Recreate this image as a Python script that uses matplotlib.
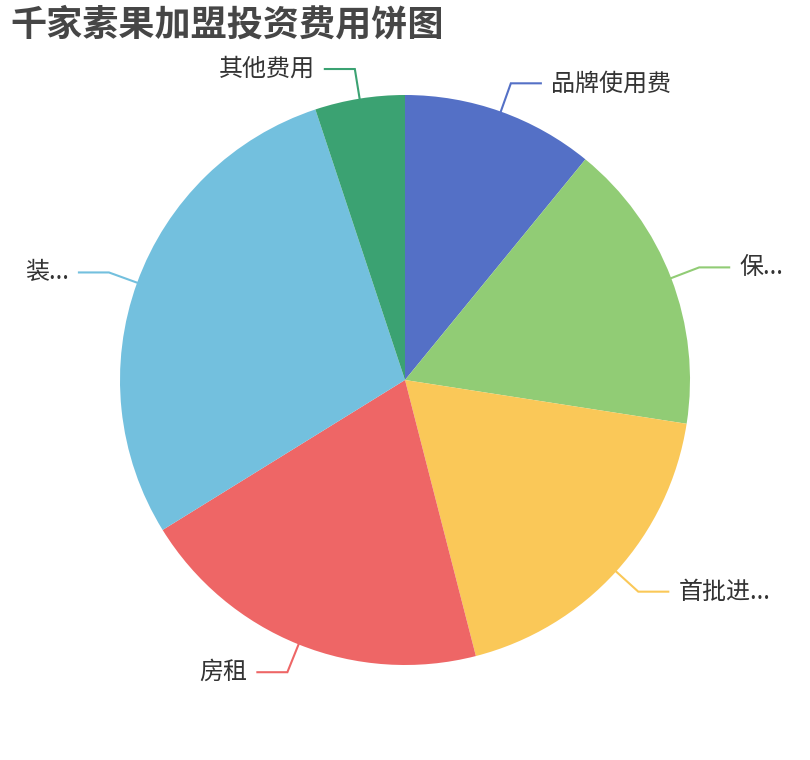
import numpy as np
import matplotlib
matplotlib.use("Agg")
import matplotlib.pyplot as plt

plt.rcParams['font.family'] = ['Noto Sans CJK SC', 'DejaVu Sans']

title = "千家素果加盟投资费用饼图"
labels = ["品牌使用费", "保...", "首批进...", "房租", "装...", "其他费用"]
values = [6.0, 9.1, 10.2, 11.1, 15.8, 2.8]
colors = ["#5470c6", "#91cc75", "#fac858", "#ee6666", "#73c0de", "#3ba272"]

W, H = 810, 760
fig = plt.figure(figsize=(W / 100, H / 100), dpi=100)
ax = fig.add_axes([0, 0, 1, 1])

cx, cy, R = 405, H - 380, 285
wedges, _ = ax.pie(values, colors=colors, startangle=90, counterclock=False,
                   center=(cx, cy), radius=R, frame=True,
                   wedgeprops=dict(linewidth=0))
ax.set_xlim(0, W)
ax.set_ylim(0, H)
ax.set_aspect('equal')
ax.axis('off')

len1, len2, gap = 30, 30, 10
for w, lab, col in zip(wedges, labels, colors):
    mid = np.deg2rad((w.theta1 + w.theta2) / 2)
    x0, y0 = cx + R * np.cos(mid), cy + R * np.sin(mid)
    x1, y1 = cx + (R + len1) * np.cos(mid), cy + (R + len1) * np.sin(mid)
    side = 1 if np.cos(mid) >= 0 else -1
    x2 = x1 + side * len2
    ax.plot([x0, x1, x2], [y0, y1, y1], color=col, lw=1.5, solid_joinstyle='miter')
    ax.text(x2 + side * gap, y1, lab, ha='left' if side > 0 else 'right', va='center',
            fontsize=17.3, color='#333333')

fig.text(10 / W, 1 - 25 / H, title, ha='left', va='center', fontsize=26,
         fontweight='bold', color='#464646')

fig.savefig("out.png", dpi=100)
